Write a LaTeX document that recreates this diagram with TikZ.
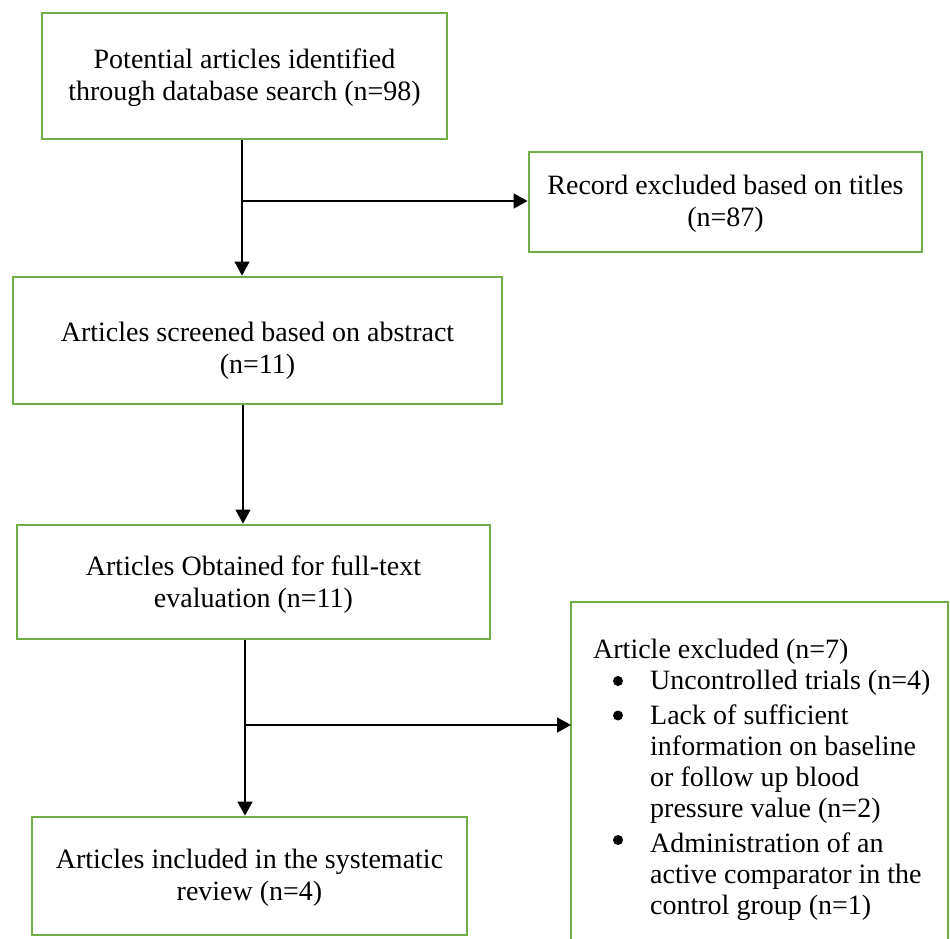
\documentclass[tikz,border=0pt]{standalone}
\usepackage{fontspec}
\setmainfont{Liberation Serif}
\usetikzlibrary{arrows.meta}
\definecolor{boxgreen}{RGB}{112,173,71}
\tikzset{
  box/.style={draw=boxgreen, line width=2.8pt, rectangle, inner sep=0pt},
  txt/.style={align=center, inner sep=0pt, font=\fontsize{28}{32}\selectfont},
  arr/.style={line width=1.3pt, -{Triangle[length=14pt,width=15pt]}},
  bul/.style={fill=black}
}
\begin{document}
\begin{tikzpicture}[x=1pt,y=-1pt]
\useasboundingbox (0,0) rectangle (950,939);
% boxes
\node[box, minimum width=405pt, minimum height=126pt] (b1) at (244.5,76) {};
\node[txt] (t1) at (244.5,78) {Potential articles identified\\through database search (n=98)};
\node[box, minimum width=393pt, minimum height=100pt] (rec) at (725.5,202) {};
\node[txt] (trec) at (725.5,204) {Record excluded based on titles\\(n=87)};
\node[box, minimum width=489pt, minimum height=127pt] (b2) at (257.5,340.5) {};
\node[txt] (t2) at (257.5,351) {Articles screened based on abstract\\(n=11)};
\node[box, minimum width=473pt, minimum height=114pt] (b3) at (253.5,582) {};
\node[txt] (t3) at (253.5,585) {Articles Obtained for full-text\\evaluation (n=11)};
\node[box, minimum width=435pt, minimum height=118pt] (b4) at (249.5,876) {};
\node[txt] (t4) at (249.5,878) {Articles included in the systematic\\review (n=4)};
% open-bottom exclusion box
\coordinate (exTL) at (571,602);
\coordinate (exTR) at (948,602);
\draw[draw=boxgreen, line width=2.8pt] (571,945) -- (exTL) -- (exTR) -- (948,945);
\node[anchor=north west, inner sep=0pt, align=left, font=\fontsize{28}{31}\selectfont] (ex) at (593,637)
{\begin{tabular}{@{\hspace{57pt}}l@{}}
\multicolumn{1}{@{}l}{Article excluded (n=7)}\\
Uncontrolled trials (n=4)\\[4pt]
Lack of sufficient\\
information on baseline\\
or follow up blood\\
pressure value (n=2)\\[4pt]
Administration of an\\
active comparator in the\\
control group (n=1)
\end{tabular}};
% bullets
\fill[bul] (618,681) circle (5pt);
\fill[bul] (618,715.5) circle (5pt);
\fill[bul] (618,840) circle (5pt);
% connectors
\coordinate (j1) at (242,201);
\coordinate (j2) at (245,725);
\draw[arr] (b1.south -| j1) -- (b2.north -| j1);
\draw[arr] (j1) -- (rec.west |- j1);
\draw[arr] (b2.south -| 243,0) -- (b3.north -| 243,0);
\draw[arr] (b3.south -| j2) -- (b4.north -| j2);
\draw[arr] (j2) -- (exTL |- j2);
\end{tikzpicture}
\end{document}
